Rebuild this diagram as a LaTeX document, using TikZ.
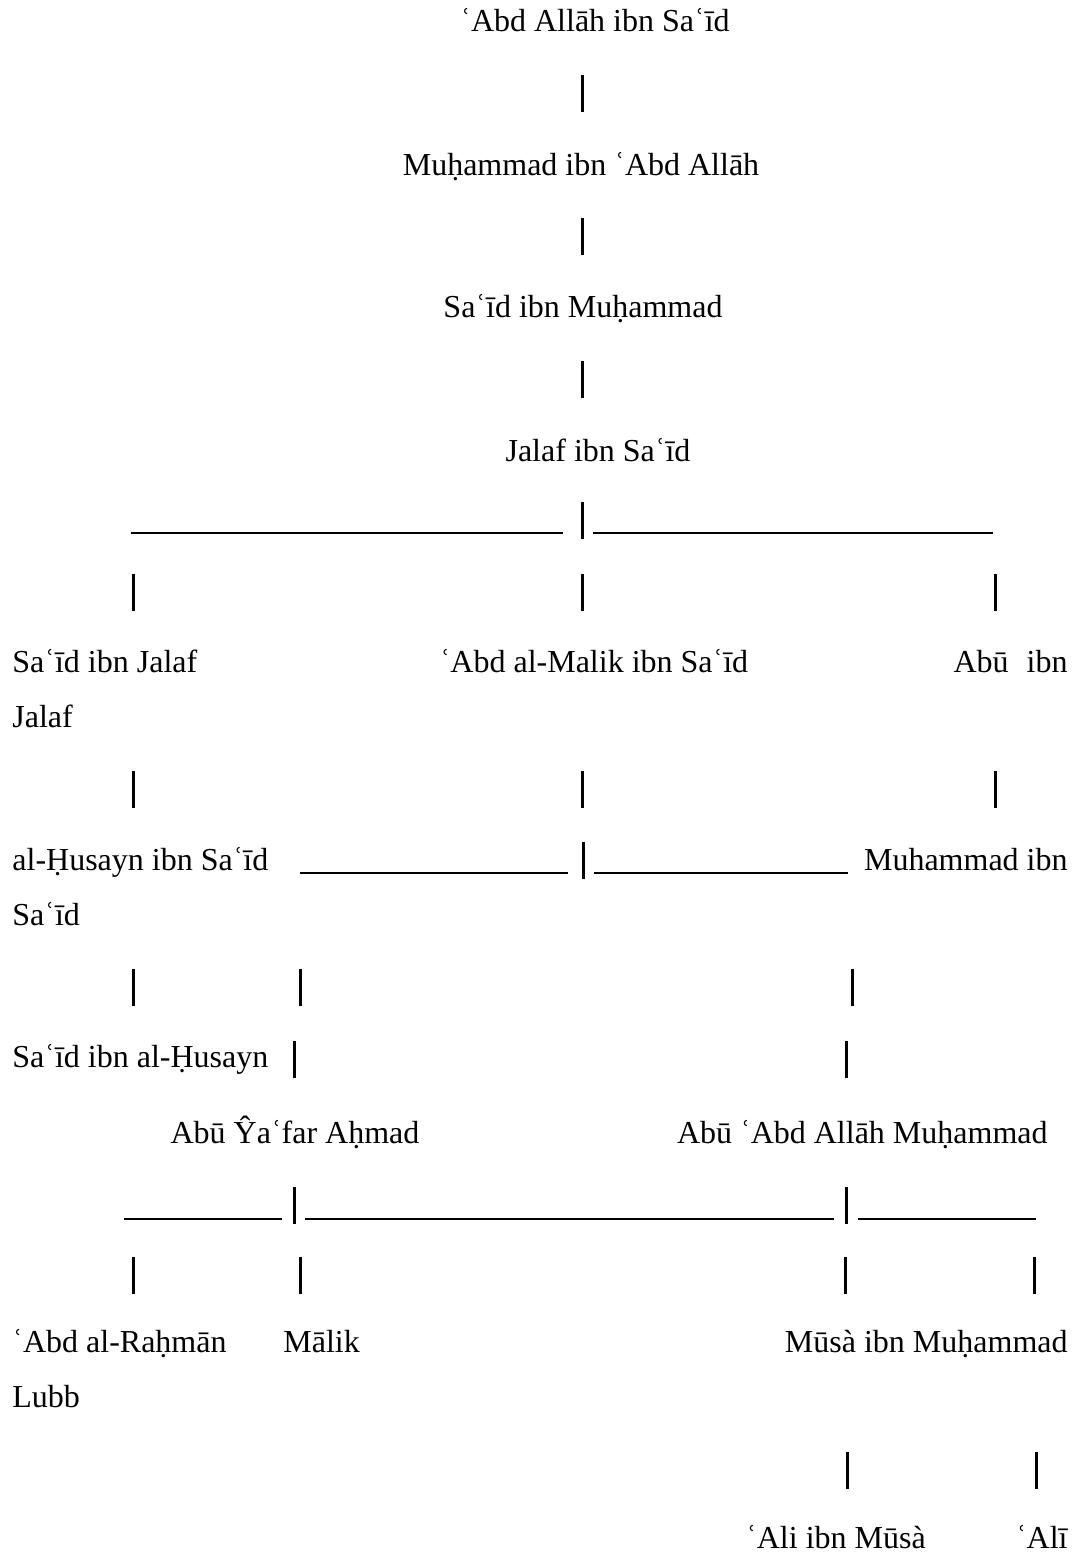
\documentclass[tikz,border=0pt]{standalone}
\usepackage{fontspec}
\setmainfont{Liberation Serif}
\tikzset{
    person/.style={anchor=base west, inner sep=0pt, font=\fontsize{16}{19}\selectfont},
    personr/.style={person, anchor=base east},
    personc/.style={person, anchor=base},
    vbar/.style={fill=black, inner sep=0pt, minimum width=1.5pt, minimum height=18.5pt},
    hline/.style={line width=0.75pt}
}

\begin{document}
\begin{tikzpicture}[x=0.5pt, y=-0.5pt]
    \useasboundingbox (0,0) rectangle (1077,1556);

    \node[personc] (abdallah) at (595,32) {ʿAbd Allāh ibn Saʿīd};
    \node[vbar] (b1) at (582,93.5) {};
    \node[personc] (muhammad) at (581,176) {Muḥammad ibn ʿAbd Allāh};
    \node[vbar] (b2) at (582,236.5) {};
    \node[personc] (said) at (583,318) {Saʿīd ibn Muḥammad};
    \node[vbar] (b3) at (582,379.5) {};
    \node[personc] (jalaf) at (598,461) {Jalaf ibn Saʿīd};

    % sons of Jalaf
    \node[vbar] (b4) at (582,520.5) {};
    \coordinate (j1) at (131,533); \coordinate (j2) at (563,533);
    \coordinate (j3) at (593,533); \coordinate (j4) at (993,533);
    \draw[hline] (j1) -- (j2);
    \draw[hline] (j3) -- (j4);
    \foreach \x/\n in {133/b5, 582/b6, 995/b7}
        \node[vbar] (\n) at (\x,592) {};

    \node[person] (saidj) at (12,672) {Saʿīd ibn Jalaf};
    \node[personc] (malik) at (594,672) {ʿAbd al-Malik ibn Saʿīd};
    \node[personr] (abu) at (1068,672) {Abū\hspace{9pt}ibn};
    \node[person] (abuw) at (12,727) {Jalaf};

    \foreach \x/\n in {133/b8, 582/b9, 995/b10}
        \node[vbar] (\n) at (\x,789.5) {};

    \node[person] (husayn) at (12,870) {al-Ḥusayn ibn Saʿīd};
    \node[vbar] (b11) at (583,860.5) {};
    \coordinate (m1) at (300,873); \coordinate (m2) at (568,873);
    \coordinate (m3) at (594,873); \coordinate (m4) at (848,873);
    \draw[hline] (m1) -- (m2);
    \draw[hline] (m3) -- (m4);
    \node[personr] (muhsaid) at (1068,870) {Muhammad ibn};
    \node[person] (husaynw) at (12,925) {Saʿīd};

    \foreach \x/\n in {133/b12, 300/b13, 852/b14}
        \node[vbar] (\n) at (\x,987.5) {};

    \node[person] (saidh) at (12,1067) {Saʿīd ibn al-Ḥusayn};
    \node[vbar] (b15) at (294,1059) {};
    \node[vbar] (b16) at (846,1059) {};

    \node[personc] (yafar) at (295,1143) {Abū Ŷaʿfar Aḥmad};
    \node[personr] (abdallahm) at (1048,1143) {Abū ʿAbd Allāh Muḥammad};

    % sons of Ahmad and Muhammad
    \node[vbar] (b17) at (294,1205) {};
    \node[vbar] (b18) at (846,1205) {};
    \coordinate (a1) at (124,1219); \coordinate (a2) at (282,1219);
    \coordinate (a3) at (305,1219); \coordinate (a4) at (834,1219);
    \coordinate (a5) at (858,1219); \coordinate (a6) at (1036,1219);
    \draw[hline] (a1) -- (a2);
    \draw[hline] (a3) -- (a4);
    \draw[hline] (a5) -- (a6);
    \foreach \x/\n in {133/b19, 300/b20, 845/b21, 1034/b22}
        \node[vbar] (\n) at (\x,1275.5) {};

    \node[person] (rahman) at (12,1352) {ʿAbd al-Raḥmān};
    \node[person] (malik2) at (283,1352) {Mālik};
    \node[personr] (musa) at (1068,1352) {Mūsà ibn Muḥammad};
    \node[person] (lubb) at (12,1407) {Lubb};

    \node[vbar] (b23) at (847,1470) {};
    \node[vbar] (b24) at (1036,1470) {};
    \node[personc] (alimusa) at (836,1548) {ʿAli ibn Mūsà};
    \node[personr] (ali) at (1068,1548) {ʿAlī};
\end{tikzpicture}
\end{document}
